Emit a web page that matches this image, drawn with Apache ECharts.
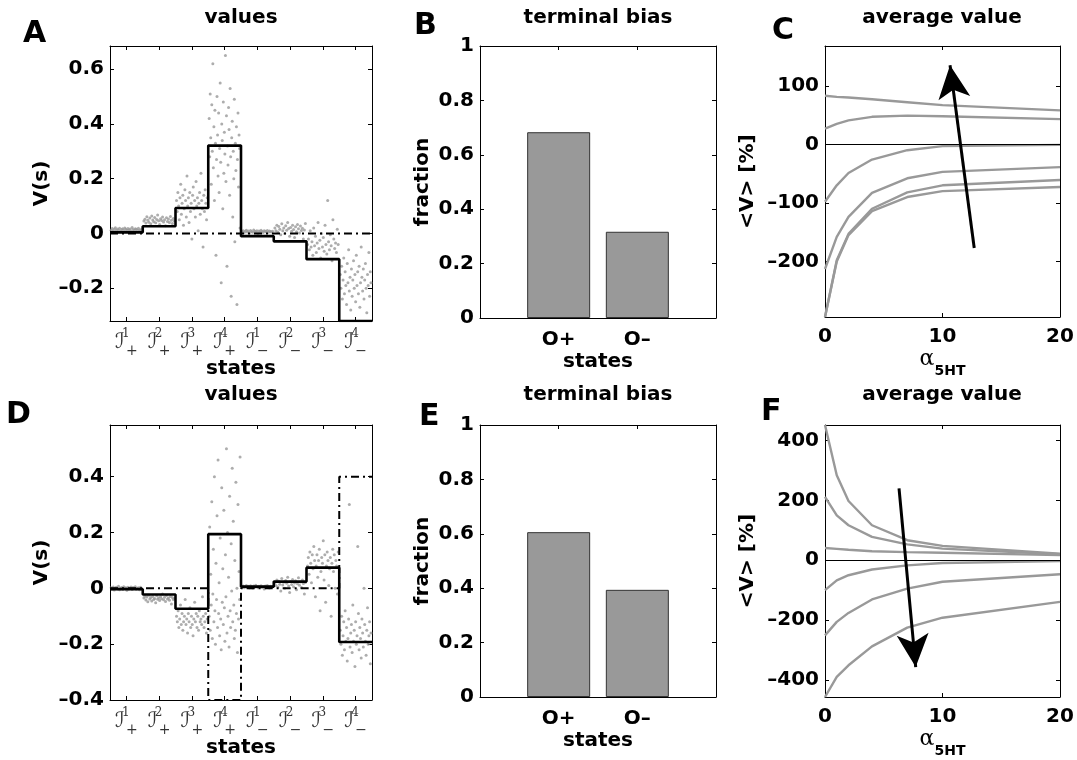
<!DOCTYPE html>
<html>
<head>
<meta charset="utf-8">
<script src="https://cdn.jsdelivr.net/npm/echarts@6/dist/echarts.min.js"></script>
<style>
  html, body { margin: 0; padding: 0; background: #fff; }
  #chart { width: 1077px; height: 760px; }
</style>
</head>
<body>
<div id="chart"></div>
<script>
// ---- data ----
const statePos = [1, 2, 3, 4, 5, 6, 7, 8]
const stateSup = ['1', '2', '3', '4', '1', '2', '3', '4']
const stateSign = ['+', '+', '+', '+', '−', '−', '−', '−']

// panel A: per-state samples of V(s)
const dotsA = [
  [0.012, 0.018, 0.009, 0.015, 0.021, 0.011, 0.016, 0.013, 0.019, 0.008, 0.014, 0.017, 0.010, 0.020, 0.015, 0.012, 0.018, 0.013, 0.016, 0.009, 0.022, 0.014, 0.011, 0.017, 0.015, 0.012, 0.019, 0.013, 0.010, 0.016],
  [0.045, 0.052, 0.038, 0.061, 0.048, 0.041, 0.056, 0.035, 0.064, 0.049, 0.043, 0.058, 0.039, 0.051, 0.067, 0.046, 0.033, 0.054, 0.047, 0.060, 0.042, 0.050, 0.028, 0.057, 0.044, 0.053, 0.040, 0.062, 0.048, 0.036, 0.055, 0.045],
  [0.12, 0.08, 0.15, 0.10, 0.05, 0.13, 0.18, 0.07, 0.11, 0.14, 0.03, 0.09, 0.16, 0.12, 0.06, 0.21, 0.10, 0.13, 0.04, 0.15, 0.08, 0.11, -0.02, 0.14, 0.17, 0.09, 0.12, 0.06, 0.19, 0.10, 0.13, 0.01, 0.11, 0.15, 0.07, 0.22, 0.12, 0.09, -0.05, 0.14, 0.08, 0.16, 0.11, 0.05, 0.13],
  [0.42, 0.28, 0.51, 0.35, 0.18, 0.47, 0.30, 0.62, 0.24, 0.39, 0.12, 0.45, 0.33, -0.08, 0.27, 0.50, 0.36, 0.21, 0.44, 0.15, 0.31, 0.55, 0.26, -0.18, 0.40, 0.34, 0.09, 0.48, 0.22, 0.37, 0.29, 0.65, 0.19, 0.43, -0.12, 0.32, 0.25, 0.46, 0.38, 0.14, 0.53, 0.28, -0.23, 0.35, 0.41, 0.06, 0.30, 0.20, 0.49, -0.03, 0.33, 0.23, 0.39, -0.26, 0.27, 0.44, 0.17, 0.36, 0.31, 0.02],
  [0.006, 0.010, 0.003, 0.008, 0.012, 0.005, 0.009, 0.002, 0.011, 0.007, 0.004, 0.013, 0.008, 0.006, 0.010, 0.001, 0.009, 0.005, 0.012, 0.007, 0.003, 0.010, 0.008, 0.006, 0.011, 0.004, 0.009, 0.007, 0.005, 0.008],
  [0.02, 0.01, 0.03, 0.005, 0.025, 0.015, -0.005, 0.035, 0.01, 0.02, 0.0, 0.028, 0.012, 0.04, 0.018, -0.01, 0.022, 0.008, 0.03, 0.014, -0.015, 0.024, 0.006, 0.033, 0.017, 0.002, 0.027, 0.011, 0.019, -0.02, 0.013, 0.036],
  [-0.04, -0.02, -0.06, 0.01, -0.05, -0.03, -0.08, 0.02, -0.045, -0.01, -0.07, -0.035, 0.04, -0.055, -0.025, -0.09, 0.0, -0.05, -0.015, -0.065, 0.03, -0.04, -0.075, 0.12, -0.03, -0.06, -0.005, -0.045, -0.10, 0.05, -0.02, -0.055, -0.035, -0.07, 0.015, -0.04],
  [-0.15, -0.20, -0.12, -0.24, -0.17, -0.09, -0.22, -0.14, -0.19, -0.26, -0.11, -0.18, -0.06, -0.21, -0.16, -0.28, -0.13, -0.23, -0.17, -0.10, -0.20, -0.15, -0.25, -0.08, -0.19, -0.14, -0.22, -0.12, -0.27, -0.18, -0.05, -0.16, -0.21, -0.13, -0.24, -0.17, -0.11, -0.20, -0.29, -0.15, -0.19, -0.07, -0.23, -0.14, -0.18]
]
const meansA = [0.004, 0.026, 0.093, 0.321, -0.01, -0.029, -0.094, -0.32]
const refA = [0, 0, 0, 0, 0, 0, 0, 0]

// panel D
const dotsD = [
  [0.002, -0.003, 0.005, -0.006, 0.001, 0.004, -0.002, 0.007, -0.005, 0.0, 0.003, -0.004, 0.006, -0.001, 0.002, -0.007, 0.004, -0.002, 0.001, 0.005, -0.004, 0.003, -0.001, 0.006, -0.003, 0.0, 0.002, -0.005, 0.004, -0.002],
  [-0.035, -0.028, -0.042, -0.031, -0.048, -0.025, -0.038, -0.033, -0.045, -0.029, -0.040, -0.036, -0.052, -0.027, -0.039, -0.034, -0.044, -0.030, -0.037, -0.020, -0.041, -0.032, -0.047, -0.026, -0.038, -0.035, -0.043, -0.029, -0.056, -0.033, -0.040, -0.036],
  [-0.10, -0.12, -0.08, -0.14, -0.11, -0.06, -0.13, -0.09, -0.15, -0.12, -0.10, -0.04, -0.13, -0.11, -0.16, -0.09, -0.12, -0.07, -0.14, -0.10, -0.13, -0.17, -0.11, -0.05, -0.12, -0.09, -0.14, -0.10, -0.15, -0.08, -0.12, -0.11, -0.13, -0.03, -0.10, -0.14, -0.12, -0.09, -0.16, -0.11],
  [-0.10, 0.22, -0.15, 0.05, -0.06, 0.31, -0.18, -0.02, 0.14, -0.12, 0.40, -0.08, -0.20, 0.09, -0.04, 0.26, -0.14, 0.46, -0.09, 0.02, -0.17, 0.18, -0.11, -0.22, 0.36, -0.05, 0.07, -0.13, 0.28, -0.07, -0.19, 0.12, -0.03, 0.50, -0.16, 0.20, -0.10, 0.04, -0.21, 0.33, -0.08, -0.14, 0.16, -0.01, 0.43, -0.12, 0.24, -0.06, -0.18, 0.10, -0.15, 0.38, -0.09, 0.0, -0.23, 0.30, -0.11, 0.06, -0.04, 0.47],
  [0.004, 0.008, 0.002, 0.006, 0.010, 0.003, 0.007, 0.001, 0.009, 0.005, 0.0, 0.008, 0.004, 0.011, 0.006, 0.002, 0.007, 0.005, 0.009, 0.003, 0.006, -0.002, 0.008, 0.004, 0.010, 0.005, 0.001, 0.007, 0.003, 0.006],
  [0.02, 0.01, 0.03, 0.005, 0.025, 0.015, -0.01, 0.035, 0.012, 0.022, 0.0, 0.028, 0.018, 0.04, 0.008, -0.015, 0.024, 0.014, 0.032, 0.006, 0.019, 0.027, -0.005, 0.016, 0.038, 0.011, 0.023, 0.003, 0.03, 0.017, -0.02, 0.021],
  [0.08, 0.11, 0.05, 0.13, 0.09, 0.02, 0.12, 0.07, 0.15, 0.10, -0.03, 0.08, 0.12, 0.04, 0.10, 0.14, -0.08, 0.06, 0.11, 0.09, 0.17, 0.03, 0.12, -0.05, 0.08, 0.13, 0.10, 0.01, 0.07, 0.11, -0.10, 0.09, 0.14, 0.06, 0.12, 0.0, 0.10, 0.08, -0.02, 0.13],
  [-0.15, -0.20, -0.10, -0.24, -0.17, -0.12, -0.22, -0.08, -0.19, -0.14, -0.26, -0.18, -0.11, 0.30, -0.21, -0.16, -0.13, -0.23, -0.06, -0.19, -0.15, -0.28, -0.12, -0.20, -0.17, 0.15, -0.09, -0.22, -0.14, -0.18, -0.25, -0.11, -0.16, -0.21, 0.0, -0.13, -0.19, -0.24, -0.15, -0.07, -0.20, -0.17, -0.12, -0.27, -0.16]
]
const meansD = [-0.003, -0.022, -0.073, 0.194, 0.006, 0.024, 0.074, -0.192]
const refD = [0, 0, 0, -0.4, 0, 0, 0, 0.4]

// panels B / E
const barPos = [1, 2]
const barLabels = ['O+', 'O–']
const fracB = [0.683, 0.317]
const fracE = [0.606, 0.394]

// panels C / F
const alphaX = [0, 1, 2, 4, 7, 10, 20]
const curvesC = [
  [83, 81, 80, 77, 72, 67, 58],
  [27, 35, 41, 47, 49, 48, 43],
  [-98, -70, -49, -26, -10, -3, -1],
  [-213, -158, -124, -83, -58, -47, -39],
  [-295, -198, -153, -110, -82, -70, -61],
  [-295, -200, -155, -114, -90, -80, -73]
]
const curvesF = [
  [452, 284, 198, 117, 67, 48, 22],
  [212, 150, 117, 78, 53, 39, 20],
  [41, 38, 35, 30, 27, 25, 17],
  [-100, -67, -50, -31, -17, -9, -3],
  [-251, -206, -176, -131, -95, -72, -47],
  [-457, -390, -351, -288, -225, -192, -139]
]
const arrowC = [[12.7, -177], [10.64, 135]]
const arrowF = [[6.3, 240], [7.72, -357]]

// tick values
const ticksA = [-0.2, 0, 0.2, 0.4, 0.6]
const ticksD = [-0.4, -0.2, 0, 0.2, 0.4]
const ticksFrac = [0, 0.2, 0.4, 0.6, 0.8, 1]
const ticksC = [-200, -100, 0, 100]
const ticksF = [-400, -200, 0, 200, 400]
const ticksAlpha = [0, 10, 20]

// ---- chart ----
const FONT = 'DejaVu Sans'
const LABEL = { fontFamily: FONT, fontWeight: 'bold', fontSize: 20, color: '#000' }
const numFmt = v => (v < 0 ? '–' : '') + Math.abs(v)
const stateFmt = v => {
  const i = Math.round(v) - 1
  return `{i|ℐ}{p|${stateSup[i]}}{m|${stateSign[i]}}`
}
const stateRich = {
  i: { fontFamily: 'DejaVu Sans', fontWeight: 'normal', fontSize: 21, color: '#333', lineHeight: 30, verticalAlign: 'middle' },
  p: { fontFamily: 'DejaVu Serif', fontWeight: 'normal', fontSize: 12, color: '#333', lineHeight: 13, width: 0, verticalAlign: 'top', padding: [0, 0, 0, 1] },
  m: { fontFamily: 'DejaVu Serif', fontWeight: 'normal', fontSize: 14, color: '#333', lineHeight: 13, verticalAlign: 'bottom', padding: [0, 0, 0, 0] }
}
const alphaName = '{a|α}{s|5HT}'
const alphaRich = {
  a: { fontFamily: 'DejaVu Serif', fontSize: 22, fontWeight: 'normal', color: '#000', lineHeight: 30, verticalAlign: 'top' },
  s: { fontFamily: FONT, fontSize: 14, fontWeight: 'bold', color: '#000', lineHeight: 14, verticalAlign: 'bottom' }
}

const grids = [
  { left: 110, top: 46, width: 262, height: 275 },
  { left: 480, top: 46, width: 236, height: 272 },
  { left: 825, top: 46, width: 235, height: 271 },
  { left: 110, top: 425, width: 262, height: 275 },
  { left: 480, top: 425, width: 236, height: 272 },
  { left: 825, top: 425, width: 235, height: 272 }
]

const xAxes = []
const yAxes = []
function axis(gi, position, s, primary) {
  return {
    type: 'value', gridIndex: gi, position, min: s.min, max: s.max,
    axisLine: { show: true, onZero: false, lineStyle: { color: '#000', width: 1 } },
    axisTick: { show: true, inside: true, length: 4, customValues: s.ticks, lineStyle: { color: '#000', width: 1 } },
    axisLabel: primary
      ? Object.assign({ show: true, customValues: s.ticks, formatter: s.fmt || numFmt, margin: s.margin || 6 }, LABEL, s.label || {})
      : { show: false },
    splitLine: { show: false },
    name: primary ? s.name : '',
    nameLocation: 'middle',
    nameGap: s.gap,
    nameTextStyle: Object.assign({}, LABEL, s.nameStyle || {})
  }
}
function addAxes(gi, xs, ys) {
  xAxes[gi] = axis(gi, 'bottom', xs, true)
  xAxes[gi + 6] = axis(gi, 'top', xs, false)
  yAxes[gi] = axis(gi, 'left', ys, true)
  yAxes[gi + 6] = axis(gi, 'right', ys, false)
}

const stateX = { min: 0.5, max: 8.5, ticks: statePos, fmt: stateFmt, margin: 7, label: { rich: stateRich }, name: 'states', gap: 36 }
const barX = { min: 0, max: 3, ticks: barPos, fmt: v => barLabels[Math.round(v) - 1], margin: 12, name: 'states', gap: 34 }
const alphaAx = { min: 0, max: 20, ticks: ticksAlpha, margin: 10, name: alphaName, gap: 30, nameStyle: { rich: alphaRich } }

addAxes(0, stateX, { min: -0.32, max: 0.685, ticks: ticksA, name: 'V(s)', gap: 58 })
addAxes(1, barX, { min: 0, max: 1, ticks: ticksFrac, name: 'fraction', gap: 47 })
addAxes(2, alphaAx, { min: -295, max: 168, ticks: ticksC, name: '<V> [%]', gap: 67 })
addAxes(3, stateX, { min: -0.4, max: 0.585, ticks: ticksD, name: 'V(s)', gap: 58 })
addAxes(4, barX, { min: 0, max: 1, ticks: ticksFrac, name: 'fraction', gap: 47 })
addAxes(5, alphaAx, { min: -457, max: 452, ticks: ticksF, name: '<V> [%]', gap: 67 })

function dotSeries(lists, gi) {
  const pts = []
  lists.forEach((vals, s) => {
    vals.forEach((v, j) => pts.push([statePos[s] - 0.48 + 0.96 * (j + 0.5) / vals.length, v]))
  })
  return {
    type: 'scatter', xAxisIndex: gi, yAxisIndex: gi, data: pts, symbolSize: 3,
    itemStyle: { color: '#999999' }, silent: true, z: 1
  }
}
function stepSeries(vals, gi, dashed) {
  const pts = []
  vals.forEach((v, i) => pts.push([statePos[i] - 0.5, v], [statePos[i] + 0.5, v]))
  return {
    type: 'line', xAxisIndex: gi, yAxisIndex: gi, data: pts, symbol: 'none', silent: true,
    lineStyle: dashed ? { color: '#000', width: 2, type: [8, 4, 2, 4] } : { color: '#000', width: 2.6 },
    z: dashed ? 4 : 3
  }
}
function barSeries(vals, gi) {
  return {
    type: 'bar', xAxisIndex: gi, yAxisIndex: gi, barWidth: 63, silent: true,
    data: barPos.map((x, i) => [x, vals[i]]),
    itemStyle: { color: '#999999', borderColor: '#333', borderWidth: 1 }
  }
}
function curveSeries(curves, gi) {
  return curves.map((c, k) => ({
    type: 'line', xAxisIndex: gi, yAxisIndex: gi, symbol: 'none', silent: true,
    data: alphaX.map((x, i) => [x, c[i]]),
    lineStyle: { color: '#999999', width: 2.4 },
    z: 2,
    markLine: k === 0 ? {
      silent: true, symbol: ['none', 'none'], label: { show: false },
      lineStyle: { color: '#000', width: 1, type: 'solid' },
      data: [{ yAxis: 0 }]
    } : undefined
  }))
}
function arrowSeries(arrow, gi) {
  return {
    type: 'line', xAxisIndex: gi, yAxisIndex: gi, data: [], silent: true, z: 5,
    markLine: {
      silent: true, label: { show: false },
      lineStyle: { color: '#000', width: 3, type: 'solid' },
      emphasis: { disabled: true },
      data: [[
        { coord: arrow[0], symbol: 'none' },
        { coord: arrow[1], symbol: 'arrow', symbolSize: [24, 33] }
      ]]
    }
  }
}

function text(x, y, str, size, align) {
  return {
    type: 'text', x, y, silent: true,
    style: {
      text: str, fill: '#000', fontFamily: FONT, fontWeight: 'bold', fontSize: size,
      align: align, textAlign: align, verticalAlign: 'top', textVerticalAlign: 'top'
    }
  }
}

const option = {
  animation: false,
  backgroundColor: '#fff',
  grid: grids,
  xAxis: xAxes,
  yAxis: yAxes,
  graphic: [
    text(241, 8, 'values', 20, 'center'),
    text(598, 8, 'terminal bias', 20, 'center'),
    text(942, 8, 'average value', 20, 'center'),
    text(241, 385, 'values', 20, 'center'),
    text(598, 385, 'terminal bias', 20, 'center'),
    text(942, 385, 'average value', 20, 'center'),
    text(23, 19, 'A', 30, 'left'),
    text(414, 11, 'B', 30, 'left'),
    text(772, 16, 'C', 30, 'left'),
    text(6, 400, 'D', 30, 'left'),
    text(419, 402, 'E', 30, 'left'),
    text(761, 397, 'F', 30, 'left')
  ],
  series: [
    dotSeries(dotsA, 0),
    stepSeries(meansA, 0, false),
    stepSeries(refA, 0, true),
    barSeries(fracB, 1),
    ...curveSeries(curvesC, 2),
    arrowSeries(arrowC, 2),
    dotSeries(dotsD, 3),
    stepSeries(meansD, 3, false),
    stepSeries(refD, 3, true),
    barSeries(fracE, 4),
    ...curveSeries(curvesF, 5),
    arrowSeries(arrowF, 5)
  ]
}

const chart = echarts.init(document.getElementById('chart'), null, { renderer: 'canvas' })
chart.setOption(option)
window.addEventListener('resize', () => chart.resize())
</script>
</body>
</html>
